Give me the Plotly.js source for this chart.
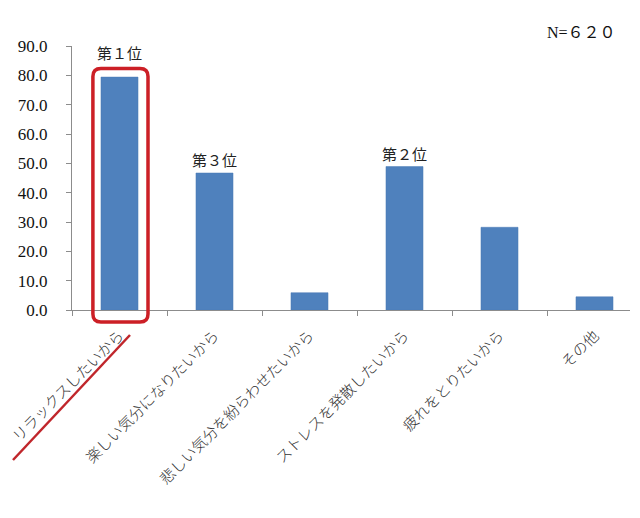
<!DOCTYPE html>
<html>
<head>
<meta charset="utf-8">
<script src="https://cdn.plot.ly/plotly-3.0.1.min.js"></script>
<style>html,body{margin:0;padding:0;background:#fff;}#chart{width:640px;height:518px;}</style>
</head>
<body>
<div id="chart"></div>
<script>
// Data
var categories = ["リラックスしたいから", "楽しい気分になりたいから", "悲しい気分を紛らわせたいから", "ストレスを発散したいから", "疲れをとりたいから", "その他"];
var values = [79.4, 46.7, 5.9, 48.9, 28.2, 4.5];
var rankLabels = ["第１位", "第３位", "", "第２位", "", ""];
var yTickVals = [0, 10, 20, 30, 40, 50, 60, 70, 80, 90];
var sampleNote = "N=６２０";

var W = 640, H = 518;
var margin = {l: 72, r: 10, t: 46, b: 208};
var plotW = W - margin.l - margin.r, plotH = H - margin.t - margin.b;
var catPx = 95; // pixels per category
var xRange = [-0.5, -0.5 + plotW / catPx];
var yRange = [0, 90];
function px(v) { return (v - xRange[0]) / (xRange[1] - xRange[0]); }
function py(v) { return (v - yRange[0]) / (yRange[1] - yRange[0]); }

var trace = {
  type: "bar",
  x: categories,
  y: values,
  marker: {color: "#4f81bd", line: {color: "#4a7bb5", width: 0.5}},
  hoverinfo: "x+y"
};

var annotations = [];
rankLabels.forEach(function (t, i) {
  if (!t) return;
  annotations.push({
    xref: "x", yref: "y", x: i, y: values[i],
    text: t, showarrow: false, yanchor: "bottom",
    yshift: i === 0 ? 12 : 1,
    font: {family: "Noto Sans CJK JP", size: 15, color: "#222"}
  });
});
annotations.push({
  xref: "paper", yref: "paper", x: 0.978, y: 1.05, xanchor: "right", yanchor: "middle",
  text: sampleNote, showarrow: false,
  font: {family: "Liberation Serif, Noto Sans CJK JP", size: 16, color: "#111"}
});

// Rounded highlight box around the top-ranked bar
var bx0 = px(0 - 0.28), bx1 = px(0 + 0.30), by0 = py(-4.1), by1 = py(values[0] + 2.9);
var rx = 8 / plotW, ry = 8 / plotH;
var boxPath = "M " + (bx0 + rx) + "," + by1 +
  " L " + (bx1 - rx) + "," + by1 +
  " Q " + bx1 + "," + by1 + " " + bx1 + "," + (by1 - ry) +
  " L " + bx1 + "," + (by0 + ry) +
  " Q " + bx1 + "," + by0 + " " + (bx1 - rx) + "," + by0 +
  " L " + (bx0 + rx) + "," + by0 +
  " Q " + bx0 + "," + by0 + " " + bx0 + "," + (by0 + ry) +
  " L " + bx0 + "," + (by1 - ry) +
  " Q " + bx0 + "," + by1 + " " + (bx0 + rx) + "," + by1 + " Z";

// underline under first label (pixel positions converted to paper)
function ppx(p) { return (p - margin.l) / plotW; }
function ppy(p) { return (H - margin.b - p) / plotH; }

var shapes = [
  {type: "path", xref: "paper", yref: "paper", path: boxPath,
   line: {color: "#cc1f26", width: 3.5}, fillcolor: "rgba(0,0,0,0)", layer: "above"},
  {type: "line", xref: "paper", yref: "paper",
   x0: ppx(13), y0: ppy(460), x1: ppx(130), y1: ppy(335),
   line: {color: "#c0262b", width: 2.5}}
];

var layout = {
  width: W, height: H,
  margin: margin,
  paper_bgcolor: "#fff", plot_bgcolor: "#fff",
  showlegend: false,
  bargap: 0.61,
  xaxis: {
    type: "category",
    range: xRange,
    showline: true, linecolor: "#8c8c8c", linewidth: 1,
    ticks: "outside", ticklen: 5, tickcolor: "#8c8c8c", tickson: "boundaries",
    tickangle: -45,
    tickfont: {family: "Noto Sans CJK JP", size: 15, color: "#333", weight: 300},
    ticklabelstandoff: 10,
    ticklabelshift: 0,
    showgrid: false, zeroline: false, fixedrange: true
  },
  yaxis: {
    range: yRange,
    tickvals: yTickVals,
    tickformat: ".1f",
    showline: true, linecolor: "#8c8c8c", linewidth: 1,
    ticks: "outside", ticklen: 5, tickcolor: "#8c8c8c",
    tickfont: {family: "Liberation Serif", size: 17, color: "#111"},
    ticklabelstandoff: 15,
    showgrid: false, zeroline: false, fixedrange: true
  },
  annotations: annotations,
  shapes: shapes
};

Plotly.newPlot("chart", [trace], layout, {displayModeBar: false, staticPlot: true});
</script>
</body>
</html>
